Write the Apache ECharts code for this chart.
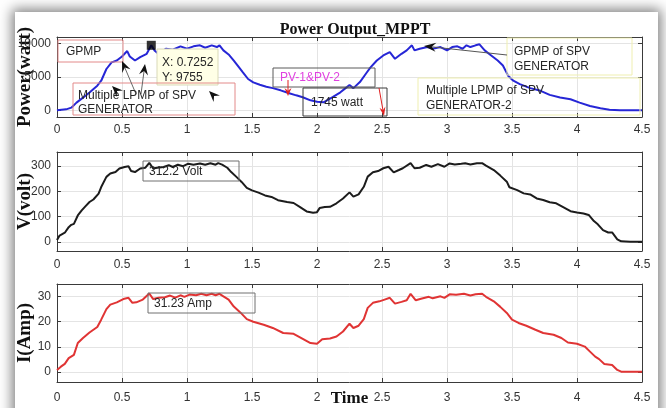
<!DOCTYPE html>
<html>
<head>
<meta charset="utf-8">
<script src="https://cdn.jsdelivr.net/npm/echarts@6/dist/echarts.min.js"></script>
<style>
  html, body { margin: 0; padding: 0; background: #fff; overflow: hidden; }
  #sheet { position: absolute; left: 15px; top: 12px; width: 643px; height: 430px; background: #fff;
           box-shadow: 0 0 12px 3px rgba(0,0,0,0.5); }
  #chart { position: absolute; left: 0; top: 0; width: 666px; height: 408px; }
</style>
</head>
<body>
<div id="sheet"></div>
<div id="chart"></div>
<script>
// ---- Power output of the MPPT (watt) ----
const powerTime = [0,0.07,0.11,0.15,0.20,0.25,0.31,0.34,0.38,0.42,0.46,0.50,0.54,0.56,0.60,0.64,0.69,0.7252,0.75,0.78,0.81,0.84,0.89,0.95,1.00,1.05,1.10,1.14,1.19,1.23,1.25,1.28,1.32,1.36,1.39,1.43,1.47,1.51,1.56,1.61,1.66,1.72,1.78,1.84,1.89,1.95,2.00,2.05,2.12,2.18,2.22,2.25,2.28,2.33,2.38,2.41,2.46,2.51,2.56,2.60,2.65,2.69,2.73,2.75,2.79,2.85,2.89,2.95,3.00,3.04,3.08,3.12,3.15,3.18,3.22,3.25,3.29,3.34,3.39,3.43,3.47,3.51,3.56,3.64,3.72,3.79,3.87,3.95,4.02,4.10,4.18,4.25,4.33,4.50];
const powerWatt = [0,150,400,1160,1900,2680,3700,4440,6200,7200,7470,8080,8890,8080,7470,7980,8480,9755,8990,8480,8900,9240,9090,9600,9240,9600,9750,9390,9750,9490,9750,8990,8380,7470,6720,5700,4700,4190,3840,3540,3330,3000,2600,2250,1970,1500,1300,1210,1970,2700,3330,3790,3330,4240,5600,6400,7470,8230,8740,7730,8480,8990,9750,8990,9240,9490,9240,9490,8990,9490,9600,9240,9750,9490,9750,9900,8990,8230,7470,6720,5200,4440,3940,3330,2930,2320,1920,1670,1160,660,300,100,0,0];

// ---- PV voltage (volt) ----
const voltTime = [0,0.02,0.06,0.09,0.11,0.13,0.16,0.19,0.22,0.25,0.28,0.32,0.34,0.38,0.41,0.45,0.48,0.52,0.55,0.57,0.60,0.64,0.68,0.71,0.74,0.77,0.82,0.86,0.89,0.93,0.97,1.01,1.05,1.10,1.14,1.18,1.22,1.24,1.27,1.31,1.34,1.38,1.42,1.46,1.50,1.55,1.60,1.65,1.70,1.77,1.82,1.87,1.92,1.97,2.00,2.02,2.06,2.10,2.15,2.20,2.25,2.28,2.32,2.36,2.39,2.43,2.47,2.51,2.55,2.59,2.63,2.66,2.72,2.75,2.79,2.84,2.88,2.93,2.98,3.02,3.06,3.11,3.14,3.18,3.23,3.27,3.30,3.36,3.41,3.46,3.48,3.54,3.59,3.64,3.69,3.74,3.79,3.84,3.89,3.95,4.00,4.05,4.09,4.13,4.16,4.20,4.24,4.27,4.31,4.34,4.41,4.50];
const voltValue = [8,26,37,59,68,72,105,125,142,158,168,191,217,257,270,276,290,296,299,280,276,290,293,312.2,290,293,296,303,296,305,299,309,305,310,305,311,305,311,305,293,276,257,237,214,204,195,184,178,165,158,154,138,121,116,118,134,138,139,153,172,196,179,188,218,258,275,280,291,297,275,284,291,311,291,293,304,297,307,297,310,306,309,311,306,311,311,301,284,262,238,216,205,192,188,172,166,157,153,139,122,117,113,107,83,70,47,38,38,11,3,1,1];

// ---- PV current (ampere) ----
const ampTime = [0,0.03,0.06,0.09,0.13,0.16,0.20,0.25,0.31,0.34,0.38,0.41,0.46,0.51,0.55,0.58,0.61,0.66,0.71,0.74,0.78,0.83,0.87,0.91,0.95,0.98,1.02,1.07,1.11,1.15,1.19,1.22,1.25,1.28,1.32,1.36,1.41,1.46,1.51,1.59,1.66,1.74,1.82,1.88,1.95,2.00,2.04,2.10,2.15,2.20,2.25,2.28,2.32,2.36,2.39,2.43,2.48,2.52,2.56,2.60,2.65,2.69,2.72,2.76,2.80,2.86,2.89,2.95,2.98,3.02,3.07,3.13,3.18,3.22,3.27,3.30,3.36,3.41,3.46,3.50,3.55,3.61,3.68,3.74,3.82,3.88,3.93,4.00,4.06,4.10,4.14,4.17,4.21,4.27,4.31,4.34,4.50];
const ampValue = [0.8,2.1,3.2,5.5,6.8,11.5,13.5,15.7,17.9,20.8,25,26.8,27.7,29,29.5,27.5,27.7,28.8,31.23,29,29.5,29.7,30.4,29.6,30.5,29.9,30.8,30.5,31.1,30.5,31.1,30.5,31.1,30.1,28.8,26,23.7,21,20,18.8,17.5,15.5,15.2,13.5,11.5,11.2,13,13.3,14.1,16.1,19.2,17.5,18.4,21,25.5,27.5,28.1,28.8,29.5,27.2,27.9,28.5,31.1,28.5,29.1,29.9,29.3,30.1,29.5,30.9,30.7,31.1,30.4,30.9,31.1,29.9,28.1,25.9,23.5,20.8,19.5,18.4,16.8,15.5,14.8,13.5,11.7,11.2,10.1,8.1,6.1,5.1,3.2,2.8,0.8,0.1,0.1];

// Data tip on the power curve
const tipTime = 0.7252;
const tipWatt = 9755;

// Axis ticks
const powerTicks = [0, 5000, 10000];
const voltTicks = [0, 100, 200, 300];
const ampTicks = [0, 10, 20, 30];

const zip = (xs, ys) => xs.map((x, i) => [x, ys[i]]);

const SANS = '"Liberation Sans", Arial, sans-serif';
const SERIF = '"Liberation Serif", "Times New Roman", serif';
const AXIS_COLOR = '#3a3a3a';
const GRID_COLOR = '#e4e4e4';

const grids = [
  { left: 57, top: 37, width: 585, height: 80, outerBoundsMode: 'none', containLabel: false },
  { left: 57, top: 152, width: 585, height: 99, outerBoundsMode: 'none', containLabel: false },
  { left: 57, top: 284, width: 585, height: 98, outerBoundsMode: 'none', containLabel: false }
];

const plain = v => String(v);

function bottomX(gi, margin, extra) {
  return Object.assign({
    type: 'value', gridIndex: gi, min: 0, max: 4.5, interval: 0.5, position: 'bottom',
    axisLine: { show: true, onZero: false, lineStyle: { color: AXIS_COLOR, width: 1 } },
    axisTick: { show: true, inside: true, length: 4, lineStyle: { color: AXIS_COLOR } },
    axisLabel: { margin, fontFamily: SANS, fontSize: 12, color: '#333', formatter: plain },
    splitLine: { show: true, lineStyle: { color: GRID_COLOR, width: 1 } }
  }, extra || {});
}
function topX(gi) {
  return {
    type: 'value', gridIndex: gi, min: 0, max: 4.5, interval: 0.5, position: 'top',
    axisLine: { show: true, onZero: false, lineStyle: { color: AXIS_COLOR, width: 1 } },
    axisTick: { show: true, inside: true, length: 4, lineStyle: { color: AXIS_COLOR } },
    axisLabel: { show: false }, splitLine: { show: false }
  };
}
function leftY(gi, min, max, ticks, name) {
  return {
    type: 'value', gridIndex: gi, min, max, position: 'left',
    name, nameLocation: 'middle', nameGap: 22, nameMoveOverlap: false,
    nameTextStyle: { fontFamily: SERIF, fontWeight: 'bold', fontSize: 19, color: '#111' },
    axisLine: { show: true, onZero: false, lineStyle: { color: AXIS_COLOR, width: 1 } },
    axisTick: { show: true, inside: true, length: 4, customValues: ticks, lineStyle: { color: AXIS_COLOR } },
    axisLabel: { customValues: ticks, margin: 6, fontFamily: SANS, fontSize: 12, color: '#333', formatter: plain },
    splitLine: { show: true, lineStyle: { color: GRID_COLOR, width: 1 } }
  };
}
function rightY(gi, min, max, ticks) {
  return {
    type: 'value', gridIndex: gi, min, max, position: 'right',
    axisLine: { show: true, onZero: false, lineStyle: { color: AXIS_COLOR, width: 1 } },
    axisTick: { show: true, inside: true, length: 4, customValues: ticks, lineStyle: { color: AXIS_COLOR } },
    axisLabel: { show: false }, splitLine: { show: false }
  };
}

// ---- annotation helpers ----
const Z = 100;
function box(x, y, w, h, stroke, fill) {
  return { type: 'rect', z: Z, shape: { x, y, width: w, height: h },
           style: { stroke, fill: fill || 'none', lineWidth: 1 } };
}
function label(x, y, text, color) {
  return { type: 'text', z: Z + 1, x, y,
           style: { text, fill: color || '#262626', font: '12px ' + SANS, verticalAlign: 'middle', align: 'left' } };
}
function arrow(x1, y1, x2, y2, lineColor, headColor, len, wid, lw) {
  const a = Math.atan2(y2 - y1, x2 - x1), c = Math.cos(a), s = Math.sin(a);
  const bx = x2 - len * c, by = y2 - len * s;
  const nx = x2 - len * 0.65 * c, ny = y2 - len * 0.65 * s;
  const p1 = [bx - wid / 2 * s, by + wid / 2 * c];
  const p2 = [bx + wid / 2 * s, by - wid / 2 * c];
  const out = [];
  if (lineColor) {
    out.push({ type: 'line', z: Z, shape: { x1, y1, x2: nx, y2: ny },
               style: { stroke: lineColor, lineWidth: lw || 1 } });
  }
  out.push({ type: 'polygon', z: Z + 1, shape: { points: [[x2, y2], p1, [nx, ny], p2] },
             style: { fill: headColor } });
  return out;
}

const annotations = [].concat(
  // data tip
  [box(157, 49, 61, 36, '#d9d9b8', '#ffffe6')],
  [label(162, 63, 'X: 0.7252'), label(162, 78, 'Y: 9755')],
  // GPMP
  [box(58, 40, 65, 22, '#e38a8a'), label(66, 52, 'GPMP')],
  // local peaks of generator 1
  [box(73, 83, 162, 32, '#e38a8a'),
   label(78, 96, 'Multiple LPMP of SPV'), label(78, 110, 'GENERATOR')],
  arrow(136, 94, 122, 61, '#666', '#111', 11, 9),
  arrow(141, 94, 145, 64, '#666', '#111', 11, 9),
  arrow(122, 96, 112, 86, null, '#111', 11, 9),
  arrow(219, 101, 209, 91, null, '#111', 11, 9),
  // PV-1 & PV-2
  [box(273, 68, 102, 19, '#5a5a5a'), label(280, 78, 'PV-1&PV-2', '#e040e0')],
  arrow(288, 80, 288, 96, '#e02020', '#e02020', 8, 7),
  [box(303, 88, 84, 28, '#3a3a3a'), label(311, 103, '1745 watt')],
  arrow(379, 88, 384, 116, '#e02020', '#e02020', 9, 6),
  // generator 2
  [box(507, 38, 125, 37, '#efefb0'),
   label(514, 52, 'GPMP of SPV'), label(514, 67, 'GENERATOR')],
  arrow(507, 55, 424, 46, '#555', '#111', 12, 9),
  [box(418, 78, 222, 37, '#efefb0'),
   label(426, 91, 'Multiple LPMP of SPV'), label(426, 106, 'GENERATOR-2')],
  // voltage / current peaks
  [box(143, 161, 96, 20, '#707070'), label(149, 172, '312.2 Volt')],
  [box(148, 293, 107, 20, '#707070'), label(154, 304, '31.23 Amp')]
);

const lineSeries = (xi, yi, data, color) => ({
  type: 'line', xAxisIndex: xi, yAxisIndex: yi, data, showSymbol: false, z: 3,
  lineStyle: { color, width: 2 }, itemStyle: { color }, silent: true
});

const chart = echarts.init(document.getElementById('chart'), null, { renderer: 'canvas' });
chart.setOption({
  animation: false,
  backgroundColor: 'transparent',
  title: {
    text: 'Power Output_MPPT', left: 350, top: 17, textAlign: 'center',
    textStyle: { fontFamily: SERIF, fontWeight: 'bold', fontSize: 16, color: '#111' }
  },
  grid: grids,
  xAxis: [
    bottomX(0, 7), topX(0),
    bottomX(1, 8), topX(1),
    bottomX(2, 10, { name: 'Time', nameLocation: 'middle', nameGap: 8, nameMoveOverlap: false,
                     nameTextStyle: { fontFamily: SERIF, fontWeight: 'bold', fontSize: 17, color: '#111' } }),
    topX(2)
  ],
  yAxis: [
    leftY(0, -1000, 11000, powerTicks, 'Power(watt)'), rightY(0, -1000, 11000, powerTicks),
    leftY(1, -35, 355, voltTicks, 'V(volt)'), rightY(1, -35, 355, voltTicks),
    leftY(2, -4, 35, ampTicks, 'I(Amp)'), rightY(2, -4, 35, ampTicks)
  ],
  series: [
    lineSeries(0, 0, zip(powerTime, powerWatt), '#2626d6'),
    { type: 'scatter', xAxisIndex: 0, yAxisIndex: 0, data: [[tipTime, tipWatt]],
      symbol: 'rect', symbolSize: 9, itemStyle: { color: '#000' }, z: 120, silent: true },
    lineSeries(2, 2, zip(voltTime, voltValue), '#1c1c1c'),
    lineSeries(4, 4, zip(ampTime, ampValue), '#e03434')
  ],
  graphic: { elements: annotations }
});
</script>
</body>
</html>
